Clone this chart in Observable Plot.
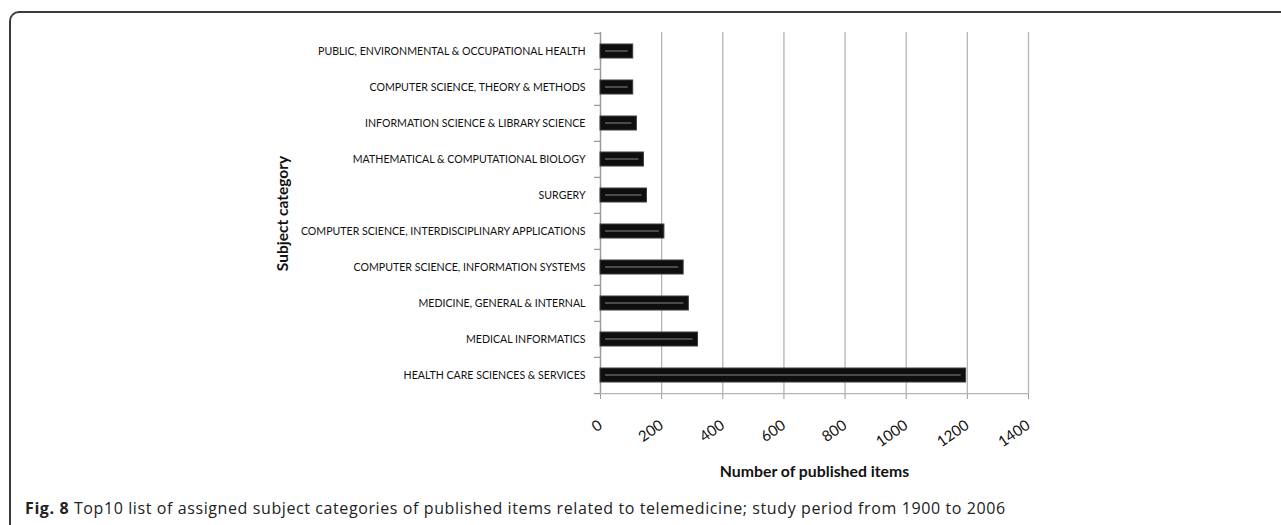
<!DOCTYPE html>
<html>
<head>
<meta charset="utf-8">
<script src="https://cdn.jsdelivr.net/npm/d3@7"></script>
<script src="https://cdn.jsdelivr.net/npm/@observablehq/plot@0.6"></script>
<style>
  html, body { margin: 0; padding: 0; background: #fff; }
  body { width: 1281px; height: 525px; position: relative; overflow: hidden; font-family: Lato, "Open Sans", sans-serif; }
  #frame { position: absolute; left: 9px; top: 11px; width: 1300px; height: 540px;
           border-left: 2px solid #3a3a3a; border-top: 2px solid #3a3a3a; border-top-left-radius: 10px; }
  #chart { position: absolute; left: 0; top: 0; }
  #caption { position: absolute; left: 25px; top: 497px; font-family: "Open Sans", sans-serif; font-size: 16px; letter-spacing: 0.6px; color: #222; white-space: nowrap; }
  #caption b { font-weight: 700; }
</style>
</head>
<body>
<div id="frame"></div>
<div id="chart"></div>
<div id="caption"><b>Fig. 8</b> Top10 list of assigned subject categories of published items related to telemedicine; study period from 1900 to 2006</div>
<script>
// Categories top to bottom
const categories = [
  "PUBLIC, ENVIRONMENTAL & OCCUPATIONAL HEALTH",
  "COMPUTER SCIENCE, THEORY & METHODS",
  "INFORMATION SCIENCE & LIBRARY SCIENCE",
  "MATHEMATICAL & COMPUTATIONAL BIOLOGY",
  "SURGERY",
  "COMPUTER SCIENCE, INTERDISCIPLINARY APPLICATIONS",
  "COMPUTER SCIENCE, INFORMATION SYSTEMS",
  "MEDICINE, GENERAL & INTERNAL",
  "MEDICAL INFORMATICS",
  "HEALTH CARE SCIENCES & SERVICES"
];
const values = [107, 107, 119, 142, 152, 209, 272, 289, 319, 1196];
const xTicks = [0, 200, 400, 600, 800, 1000, 1200, 1400];
const xLabel = "Number of published items";
const yLabel = "Subject category";

const data = categories.map((c, i) => ({category: c, value: values[i]}));

const W = 1281, H = 495;
const mTop = 32, mBottom = 101;
const step = (H - mTop - mBottom) / categories.length;

const chart = Plot.plot({
  width: W,
  height: H,
  marginLeft: 600,
  marginRight: 253,
  marginTop: mTop,
  marginBottom: mBottom,
  style: {fontFamily: "Lato, 'Open Sans', sans-serif", color: "#111", background: "transparent"},
  x: {domain: [0, 1400]},
  y: {domain: categories, paddingInner: 0.62, paddingOuter: 0.31},
  marks: [
    Plot.gridX(xTicks, {stroke: "#b5b5b5", strokeOpacity: 1, strokeWidth: 1.3}),
    Plot.ruleX([0], {stroke: "#9a9a9a", strokeWidth: 1.3}),
    Plot.ruleY(categories, {y: d => d, x1: -20, x2: 0, dy: -step / 2, stroke: "#9a9a9a", strokeWidth: 1.3}),
    Plot.ruleY(categories.slice(-1), {y: d => d, x1: -20, x2: 0, dy: step / 2, stroke: "#9a9a9a", strokeWidth: 1.3}),
    Plot.ruleY(categories.slice(-1), {y: d => d, x1: 0, x2: 1400, dy: step / 2, stroke: "#b5b5b5", strokeWidth: 1.3}),
    Plot.barX(data, {x: "value", y: "category", fill: "#0e0e0e", stroke: "#3c3c3c", strokeWidth: 1}),
    Plot.barX(data, {x: "value", y: "category", fill: "#4a4a4a", insetLeft: 5, insetRight: 5, insetTop: 6, insetBottom: 6}),
    Plot.axisY({tickSize: 0, tickPadding: 15, fontSize: 10.6, fill: "#111", label: null}),
    Plot.axisX({ticks: xTicks, tickSize: 5, tickPadding: 24, tickRotate: -35, fontSize: 15, fill: "#111", stroke: "#9a9a9a", label: null, tickFormat: d => String(d)}),
    Plot.text([xLabel], {frameAnchor: "bottom", dy: 82, fontWeight: "bold", fontSize: 15.8, fill: "#111", text: d => d}),
    Plot.text([yLabel], {frameAnchor: "left", textAnchor: "middle", dx: -317, rotate: -90, fontWeight: "bold", fontSize: 15.5, fill: "#111", text: d => d})
  ]
});
document.getElementById("chart").appendChild(chart);
</script>
</body>
</html>
